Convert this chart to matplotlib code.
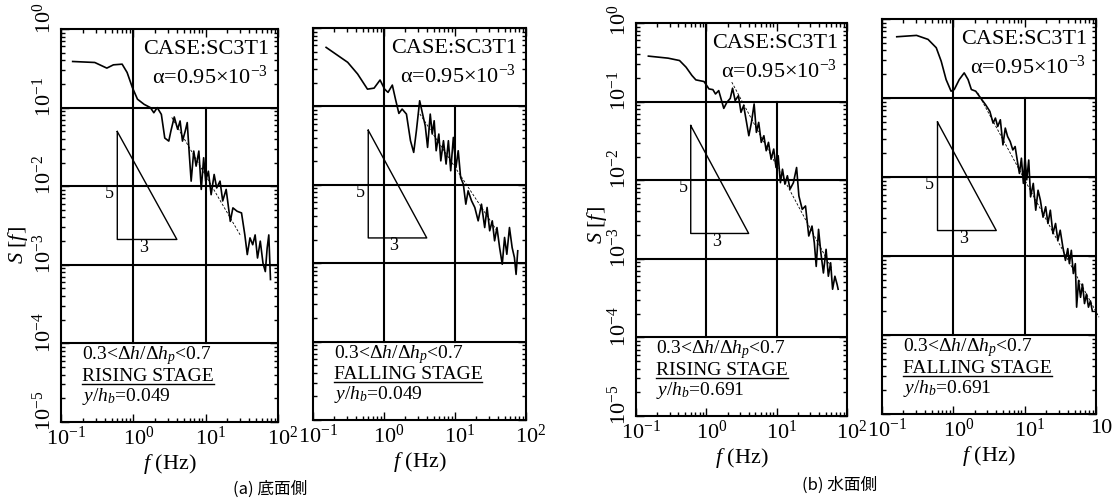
import matplotlib.pyplot as plt
import numpy as np
from matplotlib.transforms import ScaledTranslation, IdentityTransform
from matplotlib.lines import Line2D

plt.rcParams['font.family'] = ['Liberation Serif', 'DejaVu Serif']
plt.rcParams['mathtext.fontset'] = 'custom'
plt.rcParams['mathtext.rm'] = 'Liberation Serif'
plt.rcParams['mathtext.it'] = 'Liberation Serif:italic'
plt.rcParams['mathtext.bf'] = 'Liberation Serif:bold'

# (a) bottom side, rising stage
f1 = [0.145, 0.293, 0.43, 0.53, 0.70, 0.82, 0.97, 1.14, 1.41, 1.72, 1.92, 2.14, 2.44, 2.72,
      3.09, 3.30, 3.68, 4.10, 4.43, 4.78, 5.21, 5.56, 5.94, 6.3, 6.84, 7.38, 8.05, 8.69, 9.38,
      10.0, 10.9, 11.9, 13.1, 14.2, 15.8, 17.2, 19.2, 21.9, 23.8, 27.2, 31.3, 34.8, 37.6, 41.0,
      44.7, 48.3, 52.1, 56.9, 62.0, 66.8, 70.8, 74.6, 78.7]
s1 = [0.386, 0.375, 0.318, 0.35, 0.357, 0.28, 0.18, 0.128, 0.110, 0.1, 0.086, 0.10, 0.082, 0.041,
      0.0375, 0.050, 0.076, 0.053, 0.0676, 0.0375, 0.050, 0.0645, 0.0253, 0.0116, 0.028, 0.018,
      0.028, 0.0091, 0.023, 0.0116, 0.0155, 0.0078, 0.0141, 0.0095, 0.0116, 0.0065, 0.0091,
      0.00357, 0.0053, 0.0048, 0.00457, 0.0024, 0.00135, 0.0022, 0.0018, 0.0024, 0.00122, 0.0020,
      0.00105, 0.00082, 0.00163, 0.0024, 0.00065]
fit1_f = [3.4, 30.0]
fit1_s = [0.075, 0.0024]

# (a) bottom side, falling stage
f2 = [0.153, 0.308, 0.425, 0.585, 0.725, 0.88, 1.02, 1.14, 1.31, 1.45, 1.62, 1.80, 2.07, 2.36,
      2.62, 2.86, 3.18, 3.54, 3.81, 4.11, 4.48, 4.78, 5.09, 5.43, 5.92, 6.31, 6.88, 7.49, 8.07,
      8.7, 9.48, 10.3, 11.1, 12.0, 13.1, 14.2, 15.3, 17.1, 19.0, 21.2, 23.6, 26.2, 28.3, 30.8,
      33.5, 36.1, 39.0, 42.5, 46.3, 49.9, 53.7, 58.5, 63.8, 68.7, 72.5, 76.5]
s2 = [0.566, 0.365, 0.259, 0.166, 0.171, 0.217, 0.166, 0.151, 0.187, 0.124, 0.0814, 0.0925,
      0.0798, 0.0365, 0.0259, 0.049, 0.118, 0.076, 0.0566, 0.030, 0.0798, 0.0444, 0.0656, 0.0272,
      0.0444, 0.0202, 0.0365, 0.0184, 0.0365, 0.0151, 0.0402, 0.0166, 0.0272, 0.0124, 0.0102,
      0.00566, 0.00838, 0.00625, 0.00514, 0.00347, 0.00566, 0.00285, 0.00514, 0.00259, 0.00347,
      0.00193, 0.00285, 0.00158, 0.00097, 0.00213, 0.0013, 0.00285, 0.00158, 0.00118, 0.00072,
      0.00144]
fit2_f = [3.2, 40.0]
fit2_s = [0.08, 0.0025]

# (b) water surface side, rising stage
f3 = [0.150, 0.286, 0.416, 0.515, 0.624, 0.71, 0.927, 1.09, 1.24, 1.35, 1.50, 1.77, 1.96, 2.19,
      2.36, 2.57, 2.86, 3.11, 3.39, 3.73, 4.02, 4.38, 4.78, 5.15, 5.55, 6.04, 6.58, 7.10, 7.65,
      8.34, 9.08, 9.79, 10.5, 11.3, 12.1, 13.1, 14.2, 15.5, 17.3, 19.2, 20.7, 23.1, 25.7, 28.6,
      31.8, 34.3, 36.5, 39.4, 42.5, 46.2, 50.4, 54.3, 58.5, 62.4, 67.3, 72.4, 74.8]
s3 = [0.379, 0.357, 0.333, 0.274, 0.215, 0.189, 0.18, 0.145, 0.142, 0.125, 0.138, 0.082, 0.098,
      0.110, 0.148, 0.103, 0.119, 0.073, 0.089, 0.0544, 0.0368, 0.0544, 0.0933, 0.0406, 0.0544,
      0.0303, 0.0368, 0.0237, 0.0303, 0.0185, 0.0249, 0.0145, 0.0205, 0.0093, 0.0138, 0.0089,
      0.0114, 0.0077, 0.0093, 0.0145, 0.0063, 0.00426, 0.0047, 0.00195, 0.00261, 0.0016, 0.0008,
      0.00237, 0.00119, 0.00066, 0.00132, 0.0006, 0.00089, 0.00041, 0.0006, 0.00047, 0.00041]
fit3_f = [2.3, 60.0]
fit3_s = [0.177, 0.00077]

# (b) water surface side, falling stage
f4 = [0.161, 0.305, 0.442, 0.576, 0.676, 0.792, 0.929, 1.03, 1.21, 1.42, 1.61, 1.79, 2.06, 2.41,
      2.83, 3.25, 3.61, 3.89, 4.19, 4.56, 4.96, 5.35, 5.76, 6.27, 6.82, 7.35, 7.92, 8.44, 9.0,
      9.59, 10.1, 10.7, 11.4, 12.1, 13.2, 14.3, 15.4, 16.6, 18.1, 19.7, 21.2, 22.9, 24.9, 27.1,
      29.2, 31.5, 34.3, 37.3, 40.2, 42.4, 45.1, 48.1, 51.3, 53.5, 57.0, 60.7, 64.7, 69.0, 73.5,
      78.4, 83.5, 88.9]
s4 = [0.596, 0.62, 0.552, 0.433, 0.292, 0.171, 0.122, 0.128, 0.171, 0.208, 0.171, 0.128, 0.122,
      0.1, 0.0823, 0.0677, 0.0481, 0.0557, 0.0436, 0.053, 0.0255, 0.0416, 0.0326, 0.0281, 0.022,
      0.0243, 0.0157, 0.0111, 0.0173, 0.0083, 0.0181, 0.0092, 0.0164, 0.0056, 0.0083, 0.0038,
      0.0068, 0.0051, 0.0031, 0.0042, 0.00258, 0.0038, 0.00192, 0.00258, 0.00158, 0.00212,
      0.0013, 0.00088, 0.00124, 0.0008, 0.00118, 0.0006, 0.0008, 0.000225, 0.00049, 0.0003,
      0.00044, 0.00025, 0.00033, 0.000225, 0.00027, 0.0002]
fit4_f = [2.2, 110.0]
fit4_s = [0.116, 0.000168]

stages = ['RISING STAGE', 'FALLING STAGE', 'RISING STAGE', 'FALLING STAGE']
heights = ['0.049', '0.049', '0.691', '0.691']
xtick_labels = [r'$10^{-1}$', r'$10^{0}$', r'$10^{1}$', r'$10^{2}$']
# the last label of the right-most panel is cut at the image edge in the original
xtick_labels_last = [r'$10^{-1}$', r'$10^{0}$', r'$10^{1}$', '10']
ytick_labels = [r'$10^{-5}$', r'$10^{-4}$', r'$10^{-3}$', r'$10^{-2}$', r'$10^{-1}$', r'$10^{0}$']

# -5/3 slope triangle
tri_f = [0.6, 4.0]
tri_s = 0.0021

W, H = 1114, 500
fig = plt.figure(figsize=(W / 100, H / 100), dpi=100)

boxes = [(61, 278, 29, 422), (313, 526, 28, 420), (636, 847, 23, 416), (882, 1096, 19, 414)]
series = [(f1, s1, fit1_f, fit1_s), (f2, s2, fit2_f, fit2_s),
          (f3, s3, fit3_f, fit3_s), (f4, s4, fit4_f, fit4_s)]

under = []
for i, (box, (f, s, ff, fs)) in enumerate(zip(boxes, series)):
    l, r, t, b = box
    ax = fig.add_axes([l / W, 1 - b / H, (r - l) / W, (b - t) / H])
    ax.set_xscale('log')
    ax.set_yscale('log')
    ax.set_xlim(0.1, 100)
    ax.set_ylim(1e-5, 1)

    for v in [1e-1, 1e-2, 1e-3, 1e-4]:
        ax.axhline(v, color='k', lw=1.5)
    ax.axvline(1, ymin=0.2, ymax=1, color='k', lw=1.5)
    ax.axvline(10, ymin=0.2, ymax=0.8, color='k', lw=1.5)

    ax.plot(f, s, color='k', lw=1.2)
    ax.plot(ff, fs, color='k', lw=0.6, ls=(0, (3, 2)), clip_on=(i != 3))

    x1, x2 = tri_f
    yt = tri_s * (x2 / x1) ** (5 / 3)
    ax.plot([x1, x1, x2, x1], [yt, tri_s, tri_s, yt], color='k', lw=1.0)
    ax.text(x1 * 0.78, tri_s * 3.8, '5', ha='center', va='center', fontsize=13)
    ax.text(x1 * 2.3, tri_s * 0.8, '3', ha='center', va='center', fontsize=13)

    ax.text(0.96, 0.947, 'CASE:SC3T1', transform=ax.transAxes, ha='right', va='center',
            fontsize=16)
    ax.text(0.955, 0.878, r'α=0.95×10$^{-3}$', transform=ax.transAxes, ha='right',
            va='center', fontsize=16)
    ax.text(0.097, 0.168, r'0.3<$\mathit{\Delta h}$/$\mathit{\Delta h_p}$<0.7',
            transform=ax.transAxes, ha='left', va='center', fontsize=14)
    st = ax.text(0.097, 0.115, stages[i], transform=ax.transAxes, ha='left', va='center',
                 fontsize=14)
    under.append(st)
    ax.text(0.097, 0.064, r'$y/h_b$=' + heights[i], transform=ax.transAxes, ha='left',
            va='center', fontsize=14)

    ax.tick_params(which='both', direction='in', top=True, right=True, width=1.0)
    ax.tick_params(which='major', length=6)
    ax.tick_params(which='minor', length=3)
    ax.set_xticks([0.1, 1, 10, 100])
    ax.set_xticklabels(xtick_labels_last if i == 3 else xtick_labels, fontsize=16)
    ax.set_yticks([1e-5, 1e-4, 1e-3, 1e-2, 1e-1, 1])
    if i in (0, 2):
        ax.set_yticklabels(ytick_labels, fontsize=16, rotation=90, va='center')
        labs = ax.get_yticklabels()
        for k, lab in enumerate(labs):
            dy = 0.03 if (i == 2 and k == len(labs) - 1) else 0.11
            lab.set_transform(lab.get_transform() + ScaledTranslation(0, dy, fig.dpi_scale_trans))
    else:
        ax.set_yticklabels([])
    for lab in ax.get_xticklabels():
        lab.set_transform(lab.get_transform() + ScaledTranslation(0.05, 0, fig.dpi_scale_trans))
    for sp in ax.spines.values():
        sp.set_linewidth(1.5)

    fig.text((l + r) / 2 / W, 1 - (b + 42) / H, r'$f$ (Hz)', ha='center', va='center',
             fontsize=16)

fig.text(18 / W, 1 - 245 / H, r'$S\ [f]$', rotation=90, ha='center', va='center', fontsize=16)
fig.text(597 / W, 1 - 225 / H, r'$S\ [f]$', rotation=90, ha='center', va='center', fontsize=16)

cjk = ['Noto Sans CJK JP', 'DejaVu Sans']
fig.text(270 / W, 1 - 489 / H, '(a) 底面側', ha='center', va='center', fontsize=12, family=cjk)
fig.text(840 / W, 1 - 485 / H, '(b) 水面側', ha='center', va='center', fontsize=12, family=cjk)

fig.canvas.draw()
rend = fig.canvas.get_renderer()
for st in under:
    bb = st.get_window_extent(rend)
    fig.add_artist(Line2D([bb.x0, bb.x1], [bb.y0 + 1, bb.y0 + 1], transform=IdentityTransform(),
                          color='k', lw=1.0))

fig.savefig('out.png', dpi=100)
